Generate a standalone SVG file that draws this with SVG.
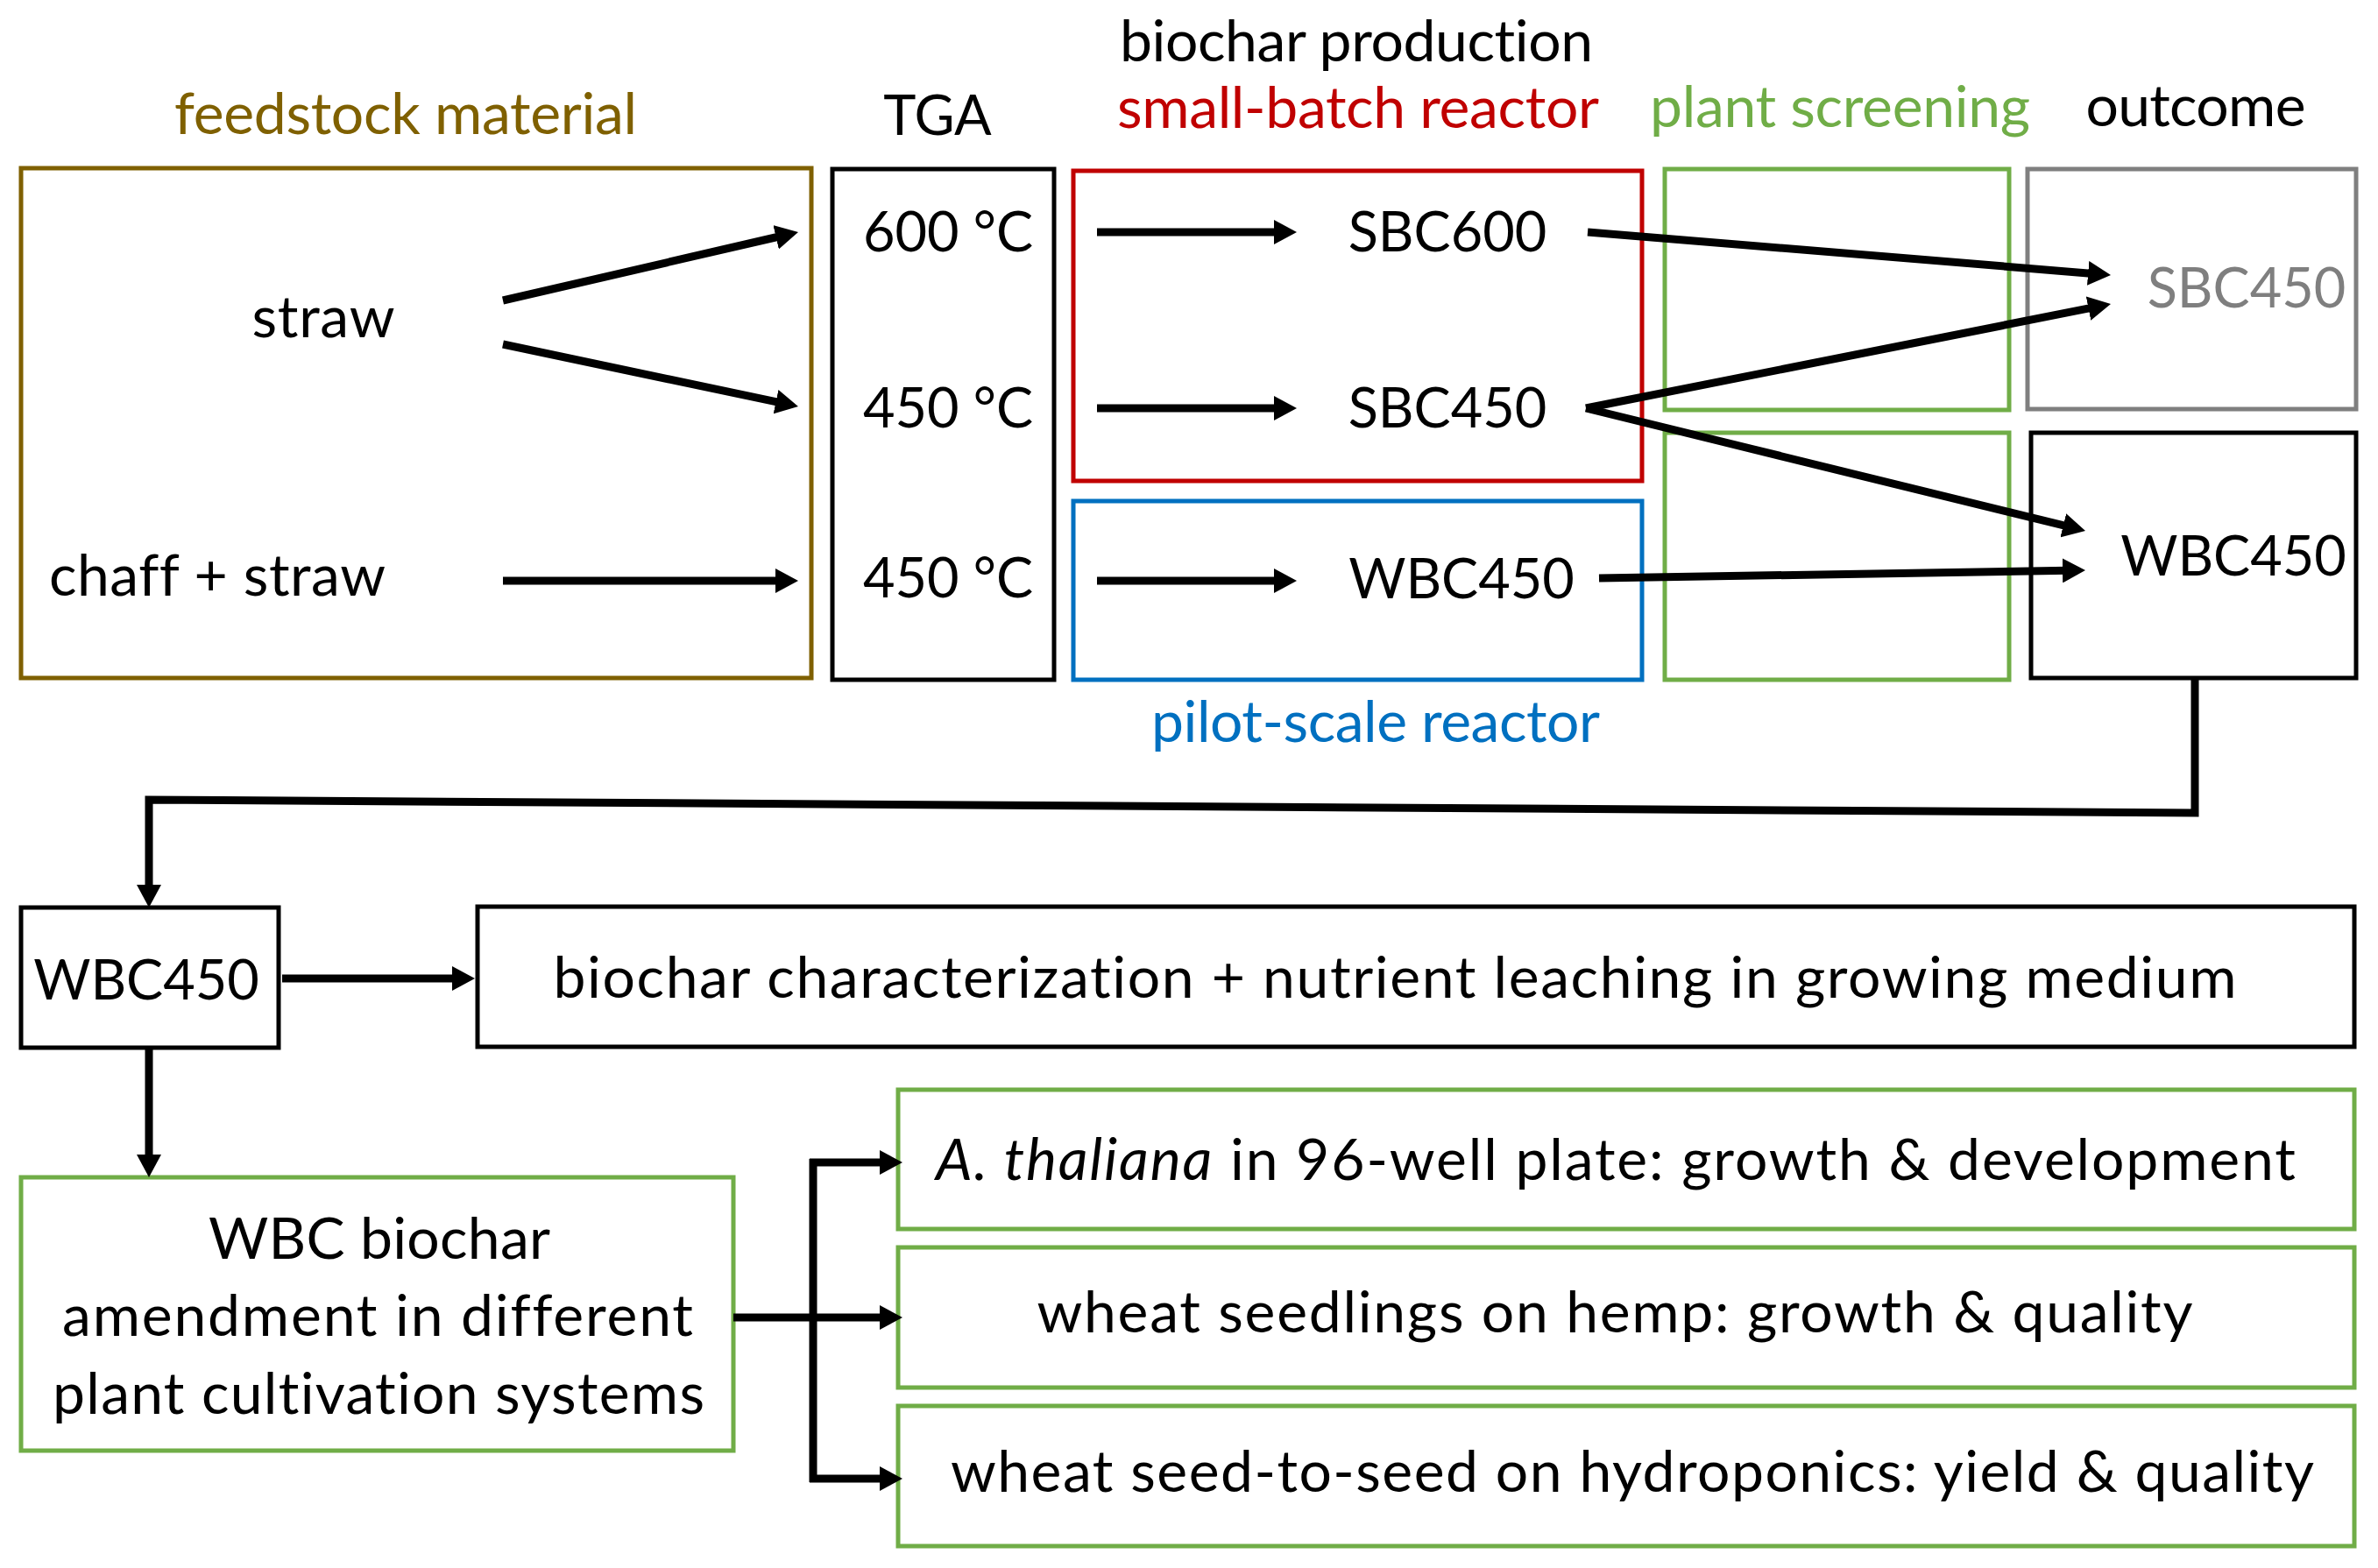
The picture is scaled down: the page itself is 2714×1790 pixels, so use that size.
<svg xmlns="http://www.w3.org/2000/svg" width="2714" height="1790" viewBox="0 0 2714 1790">
<style>
text{font-family:Lato,"Open Sans","Liberation Sans",sans-serif;font-size:63px;fill:#000;text-anchor:middle;font-variant-ligatures:none}
.w{font-size:66px}
.box{fill:none;stroke-width:5}
.k{stroke:#000}.o{stroke:#7F6000}.r{stroke:#C00000}.b{stroke:#0070C0}.g{stroke:#70AD47}.gr{stroke:#7F7F7F}
.ln{fill:none;stroke:#000;stroke-width:9}
</style>
<defs>
<marker id="ah" markerUnits="userSpaceOnUse" markerWidth="26" markerHeight="28" refX="6" refY="14" orient="auto" viewBox="0 0 26 28">
<path d="M0,0 L26,14 L0,28 z" fill="#000"/>
</marker>
</defs>
<g id="headers">
<text class="w" x="463" y="153" style="fill:#7F6000" textLength="528" lengthAdjust="spacing">feedstock material</text>
<text x="1070" y="154">TGA</text>
<text class="w" x="1548" y="70" textLength="540" lengthAdjust="spacing">biochar production</text>
<text class="w" x="1550" y="146" style="fill:#C00000" textLength="550" lengthAdjust="spacing">small-batch reactor</text>
<text class="w" x="1570" y="847" style="fill:#0070C0" textLength="512" lengthAdjust="spacing">pilot-scale reactor</text>
<text class="w" x="2100" y="145" style="fill:#70AD47" textLength="434" lengthAdjust="spacing">plant screening</text>
<text class="w" x="2506" y="144" textLength="251" lengthAdjust="spacing">outcome</text>
</g>
<g id="feedstock">
<rect class="box o" x="24" y="192" width="902" height="582"/>
<text class="w" x="369" y="385" textLength="163" lengthAdjust="spacing">straw</text>
<text class="w" x="248" y="680" textLength="384" lengthAdjust="spacing">chaff + straw</text>
</g>
<g id="tga">
<rect class="box k" x="950" y="193" width="253" height="583"/>
<text x="1082" y="287">600 °C</text>
<text x="1082" y="488">450 °C</text>
<text x="1082" y="682">450 °C</text>
</g>
<g id="small-batch">
<rect class="box r" x="1225" y="195" width="649" height="354"/>
<text x="1652" y="287">SBC600</text>
<text x="1652" y="488">SBC450</text>
</g>
<g id="pilot-scale">
<rect class="box b" x="1225" y="572" width="649" height="204"/>
<text x="1668" y="683">WBC450</text>
</g>
<g id="screening-top"><rect class="box g" x="1900" y="193" width="393" height="275"/></g>
<g id="screening-bottom"><rect class="box g" x="1900" y="494" width="393" height="282"/></g>
<g id="outcome-sbc">
<rect class="box gr" x="2314" y="193" width="375" height="274"/>
<text x="2564" y="351" style="fill:#7F7F7F">SBC450</text>
</g>
<g id="outcome-wbc">
<rect class="box k" x="2318" y="494" width="371" height="280"/>
<text x="2549" y="657">WBC450</text>
</g>
<g id="wbc450">
<rect class="box k" x="24" y="1036" width="294" height="160"/>
<text x="167" y="1141">WBC450</text>
</g>
<g id="characterization">
<rect class="box k" x="545" y="1035" width="2142" height="160"/>
<text class="w" x="1592" y="1139" textLength="1921" lengthAdjust="spacing">biochar characterization + nutrient leaching in growing medium</text>
</g>
<g id="amendment">
<rect class="box g" x="24" y="1344" width="813" height="312"/>
<text class="w" x="433" y="1437" textLength="390" lengthAdjust="spacing">WBC biochar</text>
<text class="w" x="431" y="1525" textLength="720" lengthAdjust="spacing">amendment in different</text>
<text class="w" x="432" y="1614" textLength="744" lengthAdjust="spacing">plant cultivation systems</text>
</g>
<g id="thaliana">
<rect class="box g" x="1025" y="1244" width="1662" height="159"/>
<text class="w" x="1844" y="1347" textLength="1552" lengthAdjust="spacing"><tspan font-style="italic">A. thaliana</tspan> in 96-well plate: growth &amp; development</text>
</g>
<g id="seedlings">
<rect class="box g" x="1025" y="1424" width="1662" height="160"/>
<text class="w" x="1843" y="1521" textLength="1319" lengthAdjust="spacing">wheat seedlings on hemp: growth &amp; quality</text>
</g>
<g id="seed-to-seed">
<rect class="box g" x="1025" y="1605" width="1662" height="160"/>
<text class="w" x="1863" y="1703" textLength="1556" lengthAdjust="spacing">wheat seed-to-seed on hydroponics: yield &amp; quality</text>
</g>
<g id="connectors">
<line class="ln" x1="574" y1="343" x2="891.5" y2="269.5" marker-end="url(#ah)"/>
<line class="ln" x1="574" y1="393" x2="891.4" y2="459.9" marker-end="url(#ah)"/>
<line class="ln" x1="574" y1="663" x2="891" y2="663" marker-end="url(#ah)"/>
<line class="ln" x1="1252" y1="265" x2="1460" y2="265" marker-end="url(#ah)"/>
<line class="ln" x1="1252" y1="466" x2="1460" y2="466" marker-end="url(#ah)"/>
<line class="ln" x1="1252" y1="663" x2="1460" y2="663" marker-end="url(#ah)"/>
<line class="ln" x1="1812" y1="265" x2="2389.1" y2="312.4" marker-end="url(#ah)"/>
<line class="ln" x1="1810" y1="466" x2="2389.4" y2="350.9" marker-end="url(#ah)"/>
<line class="ln" x1="1810" y1="466" x2="2360.6" y2="601.2" marker-end="url(#ah)"/>
<line class="ln" x1="1825" y1="660" x2="2360" y2="651.3" marker-end="url(#ah)"/>
<polyline class="ln" points="2505,774 2505,928 170,913 170,1016" marker-end="url(#ah)"/>
<line class="ln" x1="322" y1="1117" x2="522" y2="1117" marker-end="url(#ah)"/>
<line class="ln" x1="170" y1="1196" x2="170" y2="1324" marker-end="url(#ah)"/>
<line class="ln" x1="837" y1="1504" x2="1010" y2="1504" marker-end="url(#ah)"/>
<line class="ln" x1="928" y1="1323" x2="928" y2="1692"/>
<line class="ln" x1="924" y1="1327" x2="1010" y2="1327" marker-end="url(#ah)"/>
<line class="ln" x1="924" y1="1688" x2="1010" y2="1688" marker-end="url(#ah)"/>
</g>
</svg>
